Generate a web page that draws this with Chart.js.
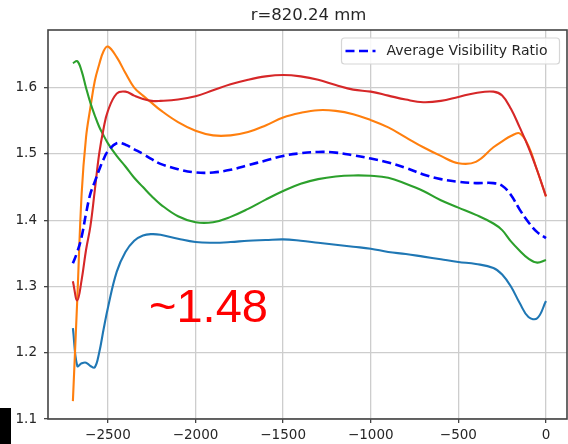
<!DOCTYPE html>
<html>
<head>
<meta charset="utf-8">
<script src="https://cdn.jsdelivr.net/npm/chart.js@4"></script>
<style>
  html, body { margin: 0; padding: 0; background: #fff; }
  #wrap { width: 568px; height: 444px; position: relative; }
</style>
</head>
<body>
<div id="wrap"><canvas id="visChart"></canvas></div>
<script>
// x positions along the profile (mm)
const xValues = [-2700, -2675, -2650, -2625, -2600, -2575, -2550, -2525, -2500, -2450,
    -2400, -2350, -2300, -2250, -2200, -2100, -2000, -1900, -1800, -1700,
    -1600, -1500, -1400, -1300, -1200, -1100, -1000, -900, -800, -700,
    -600, -500, -400, -300, -250, -200, -150, -100, -50, 0];

const curveBlue = [1.237, 1.180, 1.184, 1.185, 1.180, 1.178, 1.200, 1.235, 1.268, 1.322,
    1.352, 1.369, 1.377, 1.379, 1.378, 1.372, 1.367, 1.366, 1.367, 1.369,
    1.370, 1.371, 1.369, 1.366, 1.363, 1.360, 1.357, 1.352, 1.349, 1.345,
    1.341, 1.337, 1.334, 1.328, 1.318, 1.300, 1.275, 1.254, 1.252, 1.278];

const curveOrange = [1.127, 1.280, 1.440, 1.525, 1.570, 1.610, 1.635, 1.655, 1.662, 1.646,
    1.622, 1.600, 1.588, 1.577, 1.566, 1.548, 1.535, 1.528, 1.528, 1.533,
    1.543, 1.555, 1.562, 1.566, 1.565, 1.560, 1.551, 1.540, 1.525, 1.510,
    1.497, 1.486, 1.488, 1.510, 1.519, 1.527, 1.531, 1.512, 1.475, 1.436];

const curveGreen = [1.637, 1.640, 1.625, 1.600, 1.577, 1.558, 1.541, 1.528, 1.516, 1.497,
    1.481, 1.464, 1.450, 1.436, 1.424, 1.406, 1.397, 1.397, 1.405, 1.417,
    1.431, 1.444, 1.455, 1.462, 1.466, 1.4675, 1.467, 1.464, 1.455, 1.444,
    1.430, 1.419, 1.408, 1.395, 1.385, 1.368, 1.354, 1.342, 1.336, 1.340];

const curveRed = [1.308, 1.279, 1.310, 1.355, 1.391, 1.445, 1.500, 1.538, 1.565, 1.591,
    1.594, 1.588, 1.583, 1.580, 1.580, 1.582, 1.587, 1.596, 1.605, 1.612,
    1.617, 1.619, 1.617, 1.612, 1.604, 1.597, 1.594, 1.588, 1.582, 1.578,
    1.580, 1.586, 1.592, 1.594, 1.588, 1.568, 1.540, 1.510, 1.475, 1.436];

const averageRatio = [1.335, 1.352, 1.375, 1.410, 1.440, 1.458, 1.476, 1.492, 1.504, 1.516,
    1.514, 1.507, 1.500, 1.492, 1.485, 1.477, 1.472, 1.472, 1.476, 1.483,
    1.490, 1.497, 1.501, 1.503, 1.502, 1.498, 1.493, 1.487, 1.479, 1.469,
    1.462, 1.458, 1.456, 1.456, 1.452, 1.438, 1.416, 1.397, 1.382, 1.373];

const xTicks = [-2500, -2000, -1500, -1000, -500, 0];
const yTicks = [1.1, 1.2, 1.3, 1.4, 1.5, 1.6];

const titleText = 'r=820.24 mm';
const noteText = '~1.48';

const toPoints = ys => ys.map((y, i) => ({ x: xValues[i], y: y }));

const lineStyle = {
    pointRadius: 0,
    borderWidth: 2.1,
    fill: false,
    tension: 0.4
};

const fontFamily = '"DejaVu Sans", sans-serif';

// title, frame, legend box and the overlaid note
const extrasPlugin = {
    id: 'extras',
    afterDraw(chart) {
        const ctx = chart.ctx;
        const a = chart.chartArea;
        ctx.save();

        // frame
        ctx.strokeStyle = '#444';
        ctx.lineWidth = 1.6;
        ctx.strokeRect(a.left, a.top, a.right - a.left, a.bottom - a.top);

        // title
        ctx.fillStyle = '#262626';
        ctx.font = '16.5px ' + fontFamily;
        ctx.textAlign = 'center';
        ctx.textBaseline = 'middle';
        ctx.fillText(titleText, (a.left + a.right) / 2 + 1, 16);

        // legend (only the average line)
        const ds = chart.data.datasets.find(d => d.showInLegend);
        const bx = 341.5, by = 38, bw = 218, bh = 26;
        ctx.fillStyle = 'rgba(255,255,255,0.85)';
        ctx.strokeStyle = '#d6d6d6';
        ctx.lineWidth = 1.2;
        ctx.beginPath();
        ctx.roundRect(bx, by, bw, bh, 3);
        ctx.fill();
        ctx.stroke();
        ctx.strokeStyle = ds.borderColor;
        ctx.lineWidth = ds.borderWidth;
        ctx.setLineDash(ds.borderDash);
        ctx.beginPath();
        ctx.moveTo(bx + 4, by + 13);
        ctx.lineTo(bx + 34, by + 13);
        ctx.stroke();
        ctx.setLineDash([]);
        ctx.fillStyle = '#262626';
        ctx.font = '14px ' + fontFamily;
        ctx.textAlign = 'left';
        ctx.textBaseline = 'middle';
        ctx.fillText(ds.label, bx + 45, by + 13.5);

        // red annotation
        ctx.fillStyle = '#ff0000';
        ctx.font = '47px "Liberation Sans", Arial, sans-serif';
        ctx.textBaseline = 'alphabetic';
        ctx.fillText(noteText, 149, 322);

        // black block at bottom-left
        ctx.fillStyle = '#000';
        ctx.fillRect(0, 408, 11, 36);
        ctx.restore();
    }
};

const ctx = document.getElementById('visChart').getContext('2d');
new Chart(ctx, {
    type: 'line',
    data: {
        datasets: [
            { ...lineStyle, label: 'curve 1', data: toPoints(curveBlue), borderColor: '#1f77b4', order: 5 },
            { ...lineStyle, label: 'curve 2', data: toPoints(curveOrange), borderColor: '#ff7f0e', order: 4 },
            { ...lineStyle, label: 'curve 3', data: toPoints(curveGreen), borderColor: '#2ca02c', order: 3 },
            { ...lineStyle, label: 'curve 4', data: toPoints(curveRed), borderColor: '#d62728', order: 2 },
            {
                ...lineStyle,
                label: 'Average Visibility Ratio',
                data: toPoints(averageRatio),
                borderColor: '#0000ff',
                borderWidth: 2.6,
                borderDash: [9, 4.5],
                order: 1,
                showInLegend: true
            }
        ]
    },
    options: {
        responsive: true,
        maintainAspectRatio: false,
        animation: false,
        layout: { padding: { top: 30, right: 1, left: 0, bottom: 0 } },
        plugins: {
            legend: { display: false },
            title: { display: false },
            tooltip: { enabled: false }
        },
        scales: {
            x: {
                type: 'linear',
                min: -2842,
                max: 120,
                afterBuildTicks: scale => { scale.ticks = xTicks.map(v => ({ value: v })); },
                afterFit: scale => { scale.height = 25; },
                grid: { color: '#cdcdcd', lineWidth: 1.3, tickColor: '#444', tickLength: 4 },
                border: { display: false },
                ticks: {
                    color: '#262626',
                    padding: 4,
                    maxRotation: 0,
                    font: { family: fontFamily, size: 13.5 },
                    callback: v => (v < 0 ? '\u2212' + Math.abs(v) : String(v))
                }
            },
            y: {
                min: 1.1,
                max: 1.687,
                afterBuildTicks: scale => { scale.ticks = yTicks.map(v => ({ value: v })); },
                afterFit: scale => { scale.width = 48; },
                grid: { color: '#cdcdcd', lineWidth: 1.3, tickColor: '#444', tickLength: 4 },
                border: { display: false },
                ticks: {
                    color: '#262626',
                    padding: 7,
                    font: { family: fontFamily, size: 13.5 },
                    callback: v => v.toFixed(1)
                }
            }
        }
    },
    plugins: [extrasPlugin]
});
</script>
</body>
</html>
